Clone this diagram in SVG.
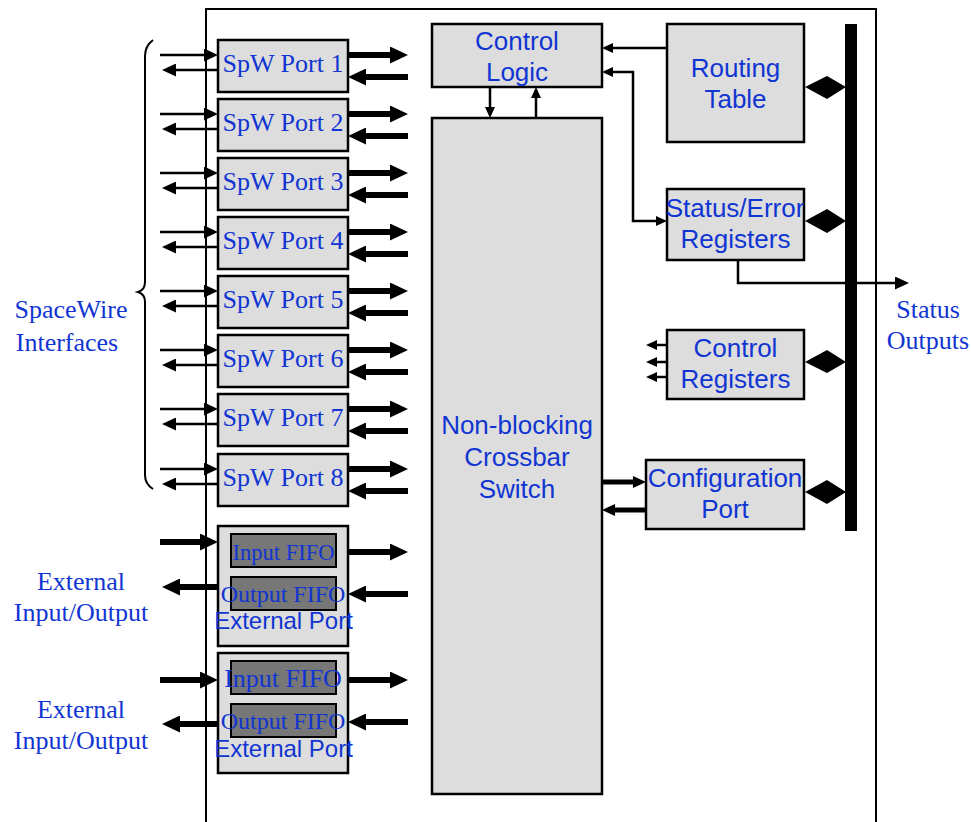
<svg xmlns="http://www.w3.org/2000/svg" width="971" height="822" viewBox="0 0 971 822">
<style>
.box{fill:#dddddd;stroke:#000;stroke-width:2.5}
.fifo{fill:#777777;stroke:#000;stroke-width:2}
.ts{font-family:"Liberation Serif","Times New Roman",serif;fill:#1035d2;text-anchor:middle}
.ss{font-family:"Liberation Sans",Arial,sans-serif;fill:#1035d2;text-anchor:middle;font-size:26px}
.thin{stroke:#000;stroke-width:2.5;fill:none}
.thick{stroke:#000;stroke-width:6;fill:none}
.thick5{stroke:#000;stroke-width:5;fill:none}
</style>
<defs>
<marker id="aThin" markerUnits="userSpaceOnUse" markerWidth="14" markerHeight="13" refX="1" refY="6.5" orient="auto"><path d="M0,0 L14,6.5 L0,13 z" fill="#000"/></marker>
<marker id="aThick" markerUnits="userSpaceOnUse" markerWidth="18" markerHeight="17" refX="1" refY="8.5" orient="auto"><path d="M0,0 L18,8.5 L0,17 z" fill="#000"/></marker>
<marker id="aMed" markerUnits="userSpaceOnUse" markerWidth="11" markerHeight="10" refX="1" refY="5" orient="auto"><path d="M0,0 L11,5 L0,10 z" fill="#000"/></marker>
<marker id="aThick2" markerUnits="userSpaceOnUse" markerWidth="13" markerHeight="12" refX="1" refY="6" orient="auto"><path d="M0,0 L13,6 L0,12 z" fill="#000"/></marker>
</defs>
<rect width="971" height="822" fill="#fff"/>

<!-- outer frame -->
<rect x="206" y="9" width="670" height="830" fill="none" stroke="#000" stroke-width="2"/>

<!-- bus bar -->
<rect id="bus" x="845" y="24" width="12" height="507" fill="#000"/>

<!-- brace -->
<path id="brace" d="M153,40 Q145,46 145,56 L145,282 Q145,290 138,292 Q145,294 145,302 L145,475 Q145,484 153,489" fill="none" stroke="#000" stroke-width="2"/>

<g id="connectors">
  <g id="spw-arrows">
    <path class="thin" d="M160,55 H205" marker-end="url(#aThin)"/>
    <path class="thin" d="M218,70 H175" marker-end="url(#aThin)"/>
    <path class="thick" d="M348,55 H391" marker-end="url(#aThick)"/>
    <path class="thick" d="M408,77 H365" marker-end="url(#aThick)"/>

    <path class="thin" d="M160,114 H205" marker-end="url(#aThin)"/>
    <path class="thin" d="M218,129 H175" marker-end="url(#aThin)"/>
    <path class="thick" d="M348,114 H391" marker-end="url(#aThick)"/>
    <path class="thick" d="M408,136 H365" marker-end="url(#aThick)"/>

    <path class="thin" d="M160,173 H205" marker-end="url(#aThin)"/>
    <path class="thin" d="M218,188 H175" marker-end="url(#aThin)"/>
    <path class="thick" d="M348,173 H391" marker-end="url(#aThick)"/>
    <path class="thick" d="M408,195 H365" marker-end="url(#aThick)"/>

    <path class="thin" d="M160,232 H205" marker-end="url(#aThin)"/>
    <path class="thin" d="M218,247 H175" marker-end="url(#aThin)"/>
    <path class="thick" d="M348,232 H391" marker-end="url(#aThick)"/>
    <path class="thick" d="M408,254 H365" marker-end="url(#aThick)"/>

    <path class="thin" d="M160,291 H205" marker-end="url(#aThin)"/>
    <path class="thin" d="M218,306 H175" marker-end="url(#aThin)"/>
    <path class="thick" d="M348,291 H391" marker-end="url(#aThick)"/>
    <path class="thick" d="M408,313 H365" marker-end="url(#aThick)"/>

    <path class="thin" d="M160,350 H205" marker-end="url(#aThin)"/>
    <path class="thin" d="M218,365 H175" marker-end="url(#aThin)"/>
    <path class="thick" d="M348,350 H391" marker-end="url(#aThick)"/>
    <path class="thick" d="M408,372 H365" marker-end="url(#aThick)"/>

    <path class="thin" d="M160,409 H205" marker-end="url(#aThin)"/>
    <path class="thin" d="M218,424 H175" marker-end="url(#aThin)"/>
    <path class="thick" d="M348,409 H391" marker-end="url(#aThick)"/>
    <path class="thick" d="M408,431 H365" marker-end="url(#aThick)"/>

    <path class="thin" d="M160,469 H205" marker-end="url(#aThin)"/>
    <path class="thin" d="M218,484 H175" marker-end="url(#aThin)"/>
    <path class="thick" d="M348,469 H391" marker-end="url(#aThick)"/>
    <path class="thick" d="M408,491 H365" marker-end="url(#aThick)"/>
  </g>
  <g id="ext-arrows">
    <path class="thick" d="M160,542 H201" marker-end="url(#aThick)"/>
    <path class="thick" d="M218,587 H179" marker-end="url(#aThick)"/>
    <path class="thick" d="M348,552 H391" marker-end="url(#aThick)"/>
    <path class="thick" d="M408,594 H365" marker-end="url(#aThick)"/>

    <path class="thick" d="M160,680 H201" marker-end="url(#aThick)"/>
    <path class="thick" d="M218,724 H179" marker-end="url(#aThick)"/>
    <path class="thick" d="M348,680 H391" marker-end="url(#aThick)"/>
    <path class="thick" d="M408,722 H365" marker-end="url(#aThick)"/>
  </g>
  <path class="thin" d="M490,87 V108" marker-end="url(#aMed)"/>
  <path class="thin" d="M536,118 V97" marker-end="url(#aMed)"/>
  <path class="thin" d="M667,48 H612" marker-end="url(#aMed)"/>
  <path class="thin" d="M634,72 H612" marker-end="url(#aMed)"/>
  <path class="thin" d="M633,71 V221 H657" marker-end="url(#aMed)"/>
  <path class="thin" d="M738,260 V283 H896" marker-end="url(#aThin)"/>
  <path class="thin" d="M667,345 H656" marker-end="url(#aMed)"/>
  <path class="thin" d="M667,362 H656" marker-end="url(#aMed)"/>
  <path class="thin" d="M667,377 H656" marker-end="url(#aMed)"/>
  <path class="thick5" d="M602,482 H634" marker-end="url(#aThick2)"/>
  <path class="thick5" d="M646,510 H614" marker-end="url(#aThick2)"/>
  <polygon points="805,87 827,76 846,87 827,99" fill="#000"/>
  <polygon points="805,221 827,209 846,221 827,233" fill="#000"/>
  <polygon points="805,362 827,350 846,362 827,373" fill="#000"/>
  <polygon points="805,492 827,480 846,492 827,504" fill="#000"/>
</g>

<g id="spw1"><rect class="box" x="218" y="40" width="130" height="52"/><text class="ts" x="283" y="72" font-size="26">SpW Port 1</text></g>
<g id="spw2"><rect class="box" x="218" y="99" width="130" height="52"/><text class="ts" x="283" y="131" font-size="26">SpW Port 2</text></g>
<g id="spw3"><rect class="box" x="218" y="158" width="130" height="52"/><text class="ts" x="283" y="190" font-size="26">SpW Port 3</text></g>
<g id="spw4"><rect class="box" x="218" y="217" width="130" height="52"/><text class="ts" x="283" y="249" font-size="26">SpW Port 4</text></g>
<g id="spw5"><rect class="box" x="218" y="276" width="130" height="52"/><text class="ts" x="283" y="308" font-size="26">SpW Port 5</text></g>
<g id="spw6"><rect class="box" x="218" y="335" width="130" height="52"/><text class="ts" x="283" y="367" font-size="26">SpW Port 6</text></g>
<g id="spw7"><rect class="box" x="218" y="394" width="130" height="52"/><text class="ts" x="283" y="426" font-size="26">SpW Port 7</text></g>
<g id="spw8"><rect class="box" x="218" y="454" width="130" height="52"/><text class="ts" x="283" y="486" font-size="26">SpW Port 8</text></g>

<g id="ext1">
  <rect class="box" x="218" y="526" width="130" height="120"/>
  <rect class="fifo" x="231" y="534" width="105" height="33"/>
  <rect class="fifo" x="231" y="577" width="105" height="33"/>
  <text class="ts" x="283.5" y="560" font-size="22.5">Input FIFO</text>
  <text class="ts" x="283" y="602" font-size="24">Output FIFO</text>
  <text class="ss" x="283.5" y="629" style="font-size:24px">External Port</text>
</g>
<g id="ext2">
  <rect class="box" x="218" y="653" width="130" height="120"/>
  <rect class="fifo" x="231" y="661" width="105" height="33"/>
  <rect class="fifo" x="231" y="704" width="105" height="33"/>
  <text class="ts" x="283" y="687" font-size="26">Input FIFO</text>
  <text class="ts" x="283" y="729" font-size="24">Output FIFO</text>
  <text class="ss" x="283.5" y="757" style="font-size:24px">External Port</text>
</g>

<g id="control-logic">
  <rect class="box" x="432" y="24" width="170" height="63"/>
  <text class="ss" x="517" y="50">Control</text>
  <text class="ss" x="517" y="81">Logic</text>
</g>

<g id="crossbar">
  <rect class="box" x="432" y="118" width="170" height="676"/>
  <text class="ss" x="517" y="434">Non-blocking</text>
  <text class="ss" x="517" y="466">Crossbar</text>
  <text class="ss" x="517" y="498">Switch</text>
</g>

<g id="routing-table">
  <rect class="box" x="667" y="24" width="137" height="118"/>
  <text class="ss" x="735.5" y="77">Routing</text>
  <text class="ss" x="735.5" y="108">Table</text>
</g>

<g id="status-error">
  <rect class="box" x="667" y="189" width="137" height="71"/>
  <text class="ss" x="735" y="217">Status/Error</text>
  <text class="ss" x="735.5" y="248">Registers</text>
</g>

<g id="control-registers">
  <rect class="box" x="667" y="330" width="137" height="69"/>
  <text class="ss" x="735.5" y="357">Control</text>
  <text class="ss" x="735.5" y="388">Registers</text>
</g>

<g id="config-port">
  <rect class="box" x="646" y="460" width="158" height="69"/>
  <text class="ss" x="725" y="487">Configuration</text>
  <text class="ss" x="725" y="518">Port</text>
</g>

<g id="labels">
  <text class="ts" x="928" y="318" font-size="26">Status</text>
  <text class="ts" x="928" y="349" font-size="26">Outputs</text>
  <text class="ts" x="71" y="318" font-size="26">SpaceWire</text>
  <text class="ts" x="67" y="351" font-size="26">Interfaces</text>
  <text class="ts" x="81" y="590" font-size="26">External</text>
  <text class="ts" x="81" y="621" font-size="26">Input/Output</text>
  <text class="ts" x="81" y="718" font-size="26">External</text>
  <text class="ts" x="81" y="749" font-size="26">Input/Output</text>
</g>
</svg>
